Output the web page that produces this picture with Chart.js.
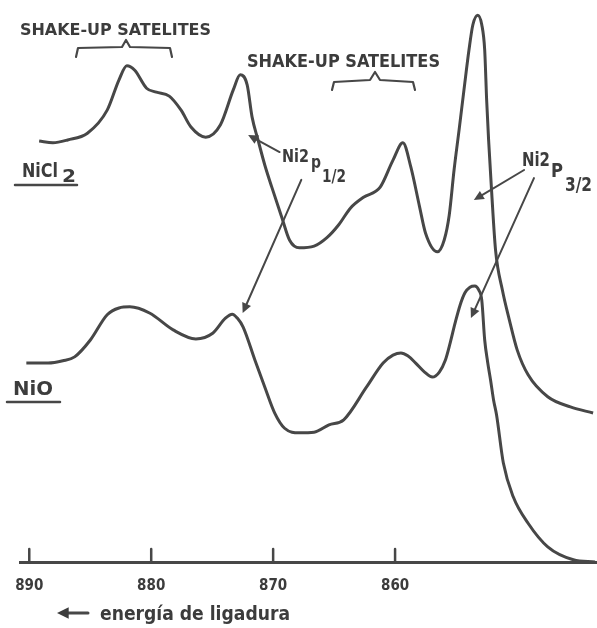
<!DOCTYPE html>
<html>
<head>
<meta charset="utf-8">
<script src="https://cdn.jsdelivr.net/npm/chart.js@4"></script>
<style>
  html, body { margin: 0; padding: 0; background: #fff; }
  #wrap { width: 597px; height: 628px; }
</style>
</head>
<body>
<div id="wrap"><canvas id="chart" width="597" height="628"></canvas></div>
<script>
// espectro XPS Ni 2p (energia en eV, intensidad en u.a.)
const energyNiCl2 = [889.19, 888.06, 886.85, 885.23, 883.61, 882.64, 882.00, 881.35, 880.38, 879.57,
  878.52, 877.55, 876.74, 875.53, 874.32, 873.27, 872.70, 872.13, 871.73, 871.24,
  870.68, 870.11, 869.30, 868.66, 867.85, 866.64, 865.59, 864.62, 863.65, 862.59,
  861.22, 860.17, 859.36, 858.71, 857.99, 857.50, 856.53, 855.97, 855.56, 855.16,
  854.75, 854.35, 853.94, 853.62, 853.22, 852.89, 852.65, 852.49, 852.33, 852.09,
  851.76, 851.20, 850.63, 849.98, 849.09, 847.48, 845.62, 843.76];
const countsNiCl2 = [74.9, 74.6, 75.1, 76.3, 80.4, 85.8, 88.3, 87.5, 84.3, 83.6,
  82.9, 80.4, 77.4, 75.6, 77.8, 84.0, 86.7, 84.9, 79.2, 75.1,
  70.6, 66.7, 61.4, 57.3, 55.9, 56.2, 57.7, 60.0, 63.0, 64.9,
  66.7, 71.5, 74.6, 70.3, 63.2, 58.5, 55.2, 57.3, 61.7, 69.8,
  76.9, 84.0, 91.1, 95.6, 97.3, 95.6, 91.1, 82.2, 75.1, 66.2,
  55.5, 48.4, 43.1, 37.7, 33.3, 29.4, 27.6, 26.5];

const energyNiO = [890.24, 888.46, 887.25, 886.28, 884.99, 883.61, 882.64, 881.75, 880.14, 878.20,
  876.34, 874.96, 873.91, 873.35, 872.94, 872.46, 871.49, 870.68, 869.87, 869.06,
  867.85, 866.64, 865.42, 864.21, 862.35, 860.98, 860.17, 859.52, 858.96, 858.31,
  857.58, 856.94, 856.37, 855.88, 855.48, 855.08, 854.67, 854.27, 853.86, 853.46,
  853.14, 852.89, 852.65, 852.41, 852.17, 851.92, 851.68, 851.12, 850.31, 849.09,
  847.48, 845.38, 843.60];
const countsNiO = [35.4, 35.4, 35.8, 36.5, 39.5, 44.0, 45.2, 45.4, 44.3, 41.3,
  39.7, 40.7, 43.4, 44.1, 43.4, 41.8, 35.9, 31.1, 26.5, 23.8,
  23.0, 23.1, 24.4, 25.3, 31.1, 35.4, 36.8, 37.2, 36.7, 35.4,
  33.8, 32.9, 33.8, 35.9, 39.0, 42.5, 45.7, 47.9, 48.9, 49.1,
  48.4, 46.6, 39.5, 35.6, 32.4, 28.8, 26.2, 17.6, 11.6, 6.9,
  2.7, 0.4, 0.0];

const tickValues = [890, 880, 870, 860];

// flechas de las anotaciones (en unidades de datos: [energia, intensidad])
const arrows = [
  { from: [869.47, 72.95], to: [872.05, 76.0] },
  { from: [867.69, 68.0], to: [872.50, 44.3] },
  { from: [849.42, 69.75], to: [853.54, 64.4] },
  { from: [848.61, 68.3], to: [853.78, 43.4] }
];

const INK = '#474747';
const FONT = '"DejaVu Sans Condensed", "DejaVu Sans", sans-serif';

function toPoints(xs, ys) {
  return xs.map((x, i) => ({ x: x, y: ys[i] }));
}

// texto estirado al ancho que ocupa en el dibujo
function sketchText(ctx, txt, x, base, w, size, weight) {
  ctx.save();
  ctx.font = (weight || 'normal') + ' ' + size + 'px ' + FONT;
  const m = ctx.measureText(txt).width;
  ctx.translate(x, base);
  ctx.scale(w / m, 1);
  ctx.textAlign = 'left';
  ctx.textBaseline = 'alphabetic';
  ctx.fillText(txt, 0, 0);
  ctx.restore();
}

function polyline(ctx, pts, width) {
  ctx.beginPath();
  ctx.lineWidth = width;
  pts.forEach((p, i) => i ? ctx.lineTo(p[0], p[1]) : ctx.moveTo(p[0], p[1]));
  ctx.stroke();
}

function arrowLine(ctx, x0, y0, x1, y1, head, width) {
  const a = Math.atan2(y1 - y0, x1 - x0);
  ctx.beginPath();
  ctx.lineWidth = width;
  ctx.moveTo(x0, y0);
  ctx.lineTo(x1 - Math.cos(a) * head * 0.6, y1 - Math.sin(a) * head * 0.6);
  ctx.stroke();
  ctx.beginPath();
  ctx.moveTo(x1, y1);
  ctx.lineTo(x1 - Math.cos(a - 0.45) * head, y1 - Math.sin(a - 0.45) * head);
  ctx.lineTo(x1 - Math.cos(a + 0.45) * head, y1 - Math.sin(a + 0.45) * head);
  ctx.closePath();
  ctx.fill();
}

const sketchLayer = {
  id: 'sketchLayer',
  afterDraw(chart) {
    const ctx = chart.ctx;
    const xs = chart.scales.x, ys = chart.scales.y;
    ctx.save();
    ctx.strokeStyle = INK;
    ctx.fillStyle = INK;
    ctx.lineCap = 'round';
    ctx.lineJoin = 'round';

    // marcas del eje hacia arriba
    tickValues.forEach(v => {
      const x = xs.getPixelForValue(v);
      polyline(ctx, [[x, ys.bottom], [x, ys.bottom - 13]], 2.5);
    });

    // flechas
    arrows.forEach(a => {
      arrowLine(ctx, xs.getPixelForValue(a.from[0]), ys.getPixelForValue(a.from[1]),
        xs.getPixelForValue(a.to[0]), ys.getPixelForValue(a.to[1]), 11, 2);
    });

    // llaves de los satelites
    polyline(ctx, [[76, 57], [78, 48], [122, 47], [126, 40], [130, 47], [170, 48], [172, 57]], 2.2);
    polyline(ctx, [[332, 90], [334, 82], [370, 80], [375, 72], [380, 80], [413, 82], [415, 90]], 2.2);

    // textos
    ctx.fillStyle = '#3c3c3c';
    sketchText(ctx, 'SHAKE-UP SATELITES', 20, 35, 191, 16, 'bold');
    sketchText(ctx, 'SHAKE-UP SATELITES', 247, 67, 193, 18, 'bold');

    sketchText(ctx, 'NiCl', 22, 177, 36, 20, 'bold');
    sketchText(ctx, '2', 62, 182, 14, 17, 'bold');
    polyline(ctx, [[15, 185], [77, 185]], 2.5);

    sketchText(ctx, 'NiO', 13, 395, 40, 20, 'bold');
    polyline(ctx, [[7, 402], [60, 402]], 2.5);

    sketchText(ctx, 'Ni2', 282, 162, 27, 18, 'bold');
    sketchText(ctx, 'p', 311, 168, 10, 18, 'bold');
    sketchText(ctx, '1/2', 322, 182, 24, 17, 'bold');

    sketchText(ctx, 'Ni2', 522, 166, 28, 20, 'bold');
    sketchText(ctx, 'P', 551, 177, 12, 20, 'bold');
    sketchText(ctx, '3/2', 565, 191, 27, 19, 'bold');

    // titulo del eje
    ctx.strokeStyle = INK;
    arrowLine(ctx, 88, 613, 57, 613, 13, 3);
    sketchText(ctx, 'energía de ligadura', 100, 620, 190, 20, 'bold');

    ctx.restore();
  }
};

new Chart(document.getElementById('chart'), {
  type: 'scatter',
  data: {
    datasets: [
      { label: 'NiCl2', data: toPoints(energyNiCl2, countsNiCl2), showLine: true,
        borderColor: INK, borderWidth: 3, pointRadius: 0, cubicInterpolationMode: 'monotone', fill: false },
      { label: 'NiO', data: toPoints(energyNiO, countsNiO), showLine: true,
        borderColor: INK, borderWidth: 3, pointRadius: 0, cubicInterpolationMode: 'monotone', fill: false }
    ]
  },
  options: {
    responsive: false,
    animation: false,
    layout: { padding: { left: 12, right: 0, top: 0, bottom: 0 } },
    plugins: { legend: { display: false }, tooltip: { enabled: false } },
    scales: {
      x: {
        type: 'linear', reverse: true, min: 843.44, max: 890.73,
        afterFit: s => { s.height = 66; },
        afterBuildTicks: s => { s.ticks = tickValues.map(v => ({ value: v })); },
        grid: { display: true, drawOnChartArea: false, drawTicks: false },
        border: { display: true, color: INK, width: 3 },
        ticks: { color: '#3c3c3c', padding: 15, autoSkip: false, maxRotation: 0,
          font: { family: FONT, size: 15, weight: 'bold' }, callback: v => String(v) }
      },
      y: { display: false, min: 0, max: 100 }
    }
  },
  plugins: [sketchLayer]
});
</script>
</body>
</html>
